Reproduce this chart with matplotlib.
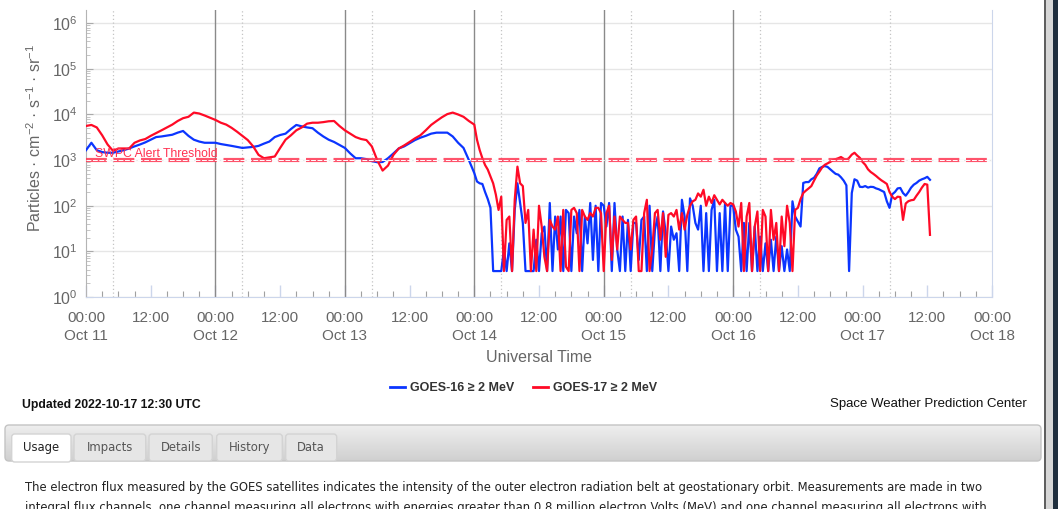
import numpy as np
import pandas as pd

import matplotlib
matplotlib.use("Agg")
import matplotlib.pyplot as plt
import matplotlib.dates as mdates
from matplotlib.colors import LinearSegmentedColormap
from matplotlib.lines import Line2D
from matplotlib.patches import FancyBboxPatch, Rectangle
from matplotlib.ticker import FuncFormatter, LogLocator, LogFormatterMathtext, NullFormatter

plt.rcParams["font.family"] = ["Liberation Sans", "DejaVu Sans"]
plt.rcParams["mathtext.fontset"] = "custom"
plt.rcParams["mathtext.rm"] = "Liberation Sans"
plt.rcParams["mathtext.it"] = "Liberation Sans:italic"
plt.rcParams["mathtext.bf"] = "Liberation Sans:bold"

# ---- GOES >= 2 MeV integral electron flux (pfu), Oct 11 00:00 UT onward ----
START = pd.Timestamp("2022-10-11 00:00")
hours_hourly = np.arange(0, 72, 1.0)        # Oct 11 - Oct 13, hourly
hours_halfhour = np.arange(72, 157, 0.5)    # Oct 14 00:00 - Oct 17 12:30, 30 min

g16_hourly = [
    1650, 2400, 1650, 1500, 1450, 1450, 1550, 1650, 1800, 2000,
    2200, 2450, 2800, 3200, 3300, 3450, 3600, 4000, 4350, 3400,
    2800, 2550, 2400, 2400, 2400, 2250, 2150, 2050, 1950, 1850,
    1900, 1950, 2050, 2300, 2550, 3200, 3550, 3800, 4800, 5900,
    5500, 5200, 5000, 4000, 3300, 2800, 2500, 2150, 1850, 1400,
    1100, 1100, 1050, 950, 900, 910, 1100, 1400, 1800, 2000,
    2350, 2750, 3100, 3400, 3800, 4000, 4000, 4000, 3300, 2400,
    1850, 1000,
]
g16_halfhour = [
    520,
    340, 310, 300, 200, 140, 90, 3.7, 3.7, 3.7, 3.7,
    11, 3.7, 15, 3.7, 81, 310, 115, 42, 3.7, 3.7,
    3.7, 3.7, 18, 3.7, 25, 35, 3.7, 115, 3.7, 58,
    11, 58, 3.7, 81, 69, 3.7, 58, 25, 81, 3.7,
    58, 15, 115, 6.5, 100, 3.7, 115, 100, 35, 115,
    3.7, 115, 11, 3.7, 58, 3.7, 49, 3.7, 42, 42,
    6.5, 49, 58, 3.7, 100, 3.7, 30, 58, 3.7, 75,
    25, 3.7, 35, 18, 25, 3.7, 135, 58, 3.7, 145,
    100, 42, 30, 100, 3.7, 69, 3.7, 81, 135, 3.7,
    69, 3.7, 115, 3.7, 100, 100, 30, 21, 3.7, 42,
    3.7, 42, 3.7, 35, 3.7, 21, 3.7, 15, 3.7, 18,
    3.7, 21, 3.7, 13, 3.7, 11, 3.7, 125, 58,
    45, 35, 316, 330, 330, 380, 410, 500, 660, 710,
    740, 710, 630, 560, 500, 480, 420, 355, 280, 3.7,
    190, 380, 355, 260, 257, 270, 250, 260, 257, 240,
    230, 215, 200, 125, 90, 178, 200, 240, 245, 190,
    166, 200, 250, 290, 316, 355, 380, 400, 430, 370,
]

g17_hourly = [
    5600, 5900, 5200, 3500, 2200, 1600, 1800, 1800, 1800, 2400,
    2700, 2900, 3400, 3900, 4500, 5200, 6000, 7200, 8300, 8900,
    11000, 10500, 9500, 8500, 7600, 6600, 6000, 5100, 4200, 3400,
    2750, 2000, 1300, 1100, 1150, 1200, 1850, 2800, 3500, 4500,
    5200, 6300, 6600, 6600, 6800, 7100, 7200, 5600, 4500, 3800,
    3200, 2900, 2750, 2000, 1000, 590, 760, 1300, 1800, 2100,
    2500, 3000, 3500, 4500, 5900, 7200, 8700, 10200, 11000, 10000,
    8900, 7200,
]
g17_halfhour = [
    6000,
    2800, 1660, 1100, 780, 620, 440, 310, 175, 81, 158,
    3.7, 49, 58, 3.7, 135, 720, 310, 270, 42, 81,
    3.7, 30, 3.7, 100, 35, 7.6, 3.7, 49, 35, 30,
    58, 3.7, 81, 4.6, 3.7, 81, 90, 69, 3.7, 81,
    58, 49, 69, 58, 90, 90, 69, 3.7, 69, 100,
    6.5, 58, 11, 58, 49, 42, 42, 11, 49, 58,
    3.7, 3.7, 69, 135, 3.7, 11, 69, 81, 18, 69,
    7.6, 63, 69, 58, 81, 30, 69, 30, 63, 100,
    125, 135, 186, 158, 224, 100, 158, 115, 170, 135,
    107, 135, 115, 100, 115, 107, 75, 35, 115, 3.7,
    58, 115, 3.7, 35, 75, 3.7, 81, 58, 3.7, 81,
    18, 42, 3.7, 58, 13, 100, 42, 3.7, 81,
    90, 140, 190, 215, 240, 270, 355, 460, 560, 690,
    790, 850, 910, 1000, 1050, 1100, 1170, 1070, 1000, 1120,
    1320, 1450, 1260, 1120, 910, 790, 630, 550, 500, 450,
    400, 360, 330, 300, 200, 158, 140, 158, 155, 49,
    112, 126, 132, 135, 166, 200, 250, 300, 290, 23,
]

ALERT_THRESHOLD = 1000
day_lines = pd.to_datetime(["2022-10-12", "2022-10-13", "2022-10-14",
                            "2022-10-15", "2022-10-16"])
local_midnight = pd.to_datetime(["2022-10-11 05:00", "2022-10-12 05:00",
                                 "2022-10-13 05:00", "2022-10-14 05:00",
                                 "2022-10-15 05:00", "2022-10-16 05:00",
                                 "2022-10-17 05:00"])

BLUE = "#0b35ff"
RED = "#ff0a26"
GREY_TXT = "#666666"

hours = np.concatenate([hours_hourly, hours_halfhour])
times = START + pd.to_timedelta(hours, unit="h")
g16 = np.array(g16_hourly + g16_halfhour, dtype=float)
g17 = np.array(g17_hourly + g17_halfhour, dtype=float)

W, H = 1058, 509
fig = plt.figure(figsize=(W / 100, H / 100), dpi=100)
fig.patch.set_facecolor("white")

# page layer in pixel coordinates for the surrounding web-page furniture
page = fig.add_axes([0, 0, 1, 1], zorder=-1)
page.axis("off")

ax = fig.add_axes([86 / W, 1 - 297 / H, (992 - 86) / W, (297 - 10) / H], zorder=2)
ax.set_yscale("log")
ax.set_ylim(1, 10 ** 6.29)
ax.set_xlim(START, START + pd.Timedelta(days=7))

for t in day_lines:
    ax.axvline(t, color="#8a8a8a", lw=1.0, zorder=1)
for t in local_midnight:
    ax.axvline(t, color="#c4c4c4", lw=0.9, ls=(0, (1, 2)), zorder=1)

ax.yaxis.grid(True, which="major", color="#e6e6e6", lw=1.0)
ax.set_axisbelow(True)

ax.plot(times, g16, color=BLUE, lw=1.6, zorder=3)
ax.plot(times, g17, color=RED, lw=1.6, zorder=4)

# alert threshold drawn as a doubled dashed line
ax.axhline(ALERT_THRESHOLD, color="#ff3652", lw=3.0, dashes=(5, 1.6), alpha=0.85, zorder=5)
ax.axhline(ALERT_THRESHOLD, color="white", lw=0.7, dashes=(5, 1.6), zorder=5)
ax.text(0.01, ALERT_THRESHOLD * 1.16, "SWPC Alert Threshold", color="#ff3050",
        fontsize=8.8, va="baseline", transform=ax.get_yaxis_transform(), zorder=6)

# axes styling
ax.spines["top"].set_visible(False)
ax.spines["left"].set_color("#b4b4b4")
ax.spines["left"].set_linewidth(0.8)
ax.spines["bottom"].set_color("#ccd6eb")
ax.spines["right"].set_color("#ccd6eb")

ax.yaxis.set_major_locator(LogLocator(base=10, numticks=10))
ax.yaxis.set_major_formatter(LogFormatterMathtext())
ax.yaxis.set_minor_locator(LogLocator(base=10, subs=np.arange(2, 10), numticks=20))
ax.yaxis.set_minor_formatter(NullFormatter())
ax.tick_params(axis="y", which="major", direction="in", length=5, width=0.8,
               color="#aaaaaa", labelcolor=GREY_TXT, labelsize=11.5, pad=6)
ax.tick_params(axis="y", which="minor", direction="in", length=3, width=0.6,
               color="#bbbbbb")


def time_label(x, pos):
    d = mdates.num2date(x)
    if d.hour == 0:
        return d.strftime("%H:%M\n%b %d")
    return d.strftime("%H:%M")


ax.xaxis.set_major_locator(mdates.HourLocator(byhour=[0, 12]))
ax.xaxis.set_major_formatter(FuncFormatter(time_label))
ax.xaxis.set_minor_locator(mdates.HourLocator(byhour=range(0, 24, 3)))
ax.tick_params(axis="x", which="major", direction="in", length=9, width=1,
               color="#ccd6eb", labelcolor=GREY_TXT, labelsize=11, pad=10)
ax.tick_params(axis="x", which="minor", direction="in", length=4, width=0.8,
               color="#a0a0a0")
for lbl in ax.get_xticklabels():
    lbl.set_linespacing(1.35)

fig.text(35 / W, 1 - 138 / H, "Particles · cm$^{-2}$ · s$^{-1}$ · sr$^{-1}$",
         rotation=90, ha="center", va="center", color=GREY_TXT, fontsize=11.5)
fig.text(539 / W, 1 - 357 / H, "Universal Time", ha="center", va="center",
         color=GREY_TXT, fontsize=11.5)

handles = [Line2D([], [], color=BLUE, lw=2, label="GOES-16 ≥ 2 MeV"),
           Line2D([], [], color=RED, lw=2, label="GOES-17 ≥ 2 MeV")]
leg = fig.legend(handles=handles, loc="center", bbox_to_anchor=(524 / W, 1 - 388 / H),
                 ncol=2, frameon=False, prop={"weight": "bold", "size": 9},
                 handlelength=1.2, handletextpad=0.4, columnspacing=1.5)
for txt in leg.get_texts():
    txt.set_color("#333333")

fig.text(22 / W, 1 - 405 / H, "Updated 2022-10-17 12:30 UTC", ha="left", va="center",
         fontsize=8.8, fontweight="bold", color="#111111")
fig.text(1027 / W, 1 - 404 / H, "Space Weather Prediction Center", ha="right",
         va="center", fontsize=9.5, color="#111111")

# tab bar under the chart
bar = FancyBboxPatch((5, 425), 1036, 36, boxstyle="round,pad=0,rounding_size=4",
                     fc="none", ec="#c4c4c4", lw=1)
page.add_patch(bar)
shade = LinearSegmentedColormap.from_list("shade", ["#eeeeee", "#d0d0d0"])
img = page.imshow(np.linspace(0, 1, 50).reshape(-1, 1), cmap=shade, aspect="auto",
                  extent=[5, 1041, 461, 425], zorder=0)
img.set_clip_path(bar)

tabs = [("Usage", 11.7, 71.0, True), ("Impacts", 74.0, 145.7, False),
        ("Details", 149.0, 212.3, False), ("History", 216.7, 282.3, False),
        ("Data", 285.7, 336.7, False)]
for name, x0, x1, active in tabs:
    tab = FancyBboxPatch((x0, 434), x1 - x0, 28 if active else 27,
                         boxstyle="round,pad=0,rounding_size=3",
                         fc="white" if active else "#e6e6e6",
                         ec="#d3d3d3", lw=1, zorder=2)
    page.add_patch(tab)
    page.text((x0 + x1) / 2, 447.5, name, ha="center", va="center",
              family="DejaVu Sans", fontsize=8.4,
              color="#222222" if active else "#555555", zorder=3)

body = ("The electron flux measured by the GOES satellites indicates the intensity of the "
        "outer electron radiation belt at geostationary orbit. Measurements are made in two")
body2 = ("integral flux channels, one channel measuring all electrons with energies greater "
         "than 0.8 million electron Volts (MeV) and one channel measuring all electrons with")
page.text(25, 488, body, ha="left", va="center", family="DejaVu Sans",
          fontsize=8.35, color="#222222")
page.text(25, 508, body2, ha="left", va="center", family="DejaVu Sans",
          fontsize=8.35, color="#222222")

# browser scrollbar edge
page.add_patch(Rectangle((1044, 0), 1.6, H, color="#5f5f5f", lw=0))
page.add_patch(Rectangle((1045.6, 0), 7.4, H, color="#d6d6d6", lw=0))
page.add_patch(Rectangle((1053, 0), 5, H, color="#1f2e3d", lw=0))

page.set_xlim(0, W)
page.set_ylim(H, 0)

fig.savefig("out.png", dpi=100)
